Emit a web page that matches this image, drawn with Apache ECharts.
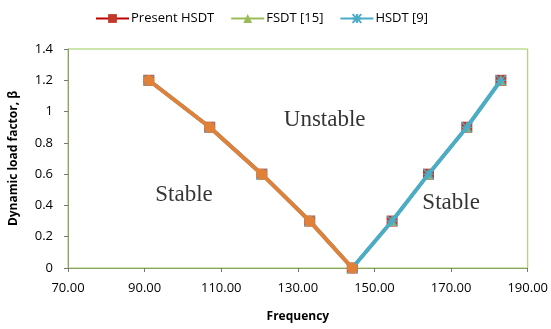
<!DOCTYPE html>
<html><head><meta charset="utf-8">
<script src="https://cdn.jsdelivr.net/npm/echarts@6/dist/echarts.min.js"></script>
<style>html,body{margin:0;padding:0;background:#fff}#c{width:551px;height:329px}</style>
</head><body><div id="c"></div>
<script>
const freqAll = [91.1, 107.0, 120.6, 133.1, 144.2, 154.6, 164.1, 174.1, 183.0];
const betaAll = [1.2, 0.9, 0.6, 0.3, 0.0, 0.3, 0.6, 0.9, 1.2];
const freqLeft = [91.1, 107.0, 120.6, 133.1, 144.2];
const betaLeft = [1.2, 0.9, 0.6, 0.3, 0.0];
const seriesNames = ['Present HSDT', 'FSDT [15]', 'HSDT [9]'];
const regionLabels = ['Unstable', 'Stable', 'Stable'];
const regionPos = [[137.0, 0.946], [100.3, 0.467], [170.0, 0.418]];

const pairs = (xs, ys) => xs.map((x, i) => [x, ys[i]]);
const starPath = 'path://M0,0L10,10M10,0L0,10M5,0L5,10M0,5L10,5';

const chart = echarts.init(document.getElementById('c'));
chart.setOption({
  animation: false,
  grid: {left: 66, right: 23, top: 49, bottom: 61, show: true, borderColor: '#9ACD5A', borderWidth: 1},
  legend: {
    top: 7, left: 90, itemWidth: 33, itemHeight: 11, itemGap: 16,
    textStyle: {fontFamily: 'Open Sans', fontSize: 13, color: '#000', padding: [0, 0, 0, -3]},
    data: seriesNames
  },
  xAxis: {
    type: 'value', min: 70, max: 190, interval: 20,
    name: 'Frequency', nameLocation: 'middle', nameGap: 43,
    nameTextStyle: {fontFamily: 'Open Sans', fontWeight: 'bold', fontSize: 12, color: '#000'},
    axisLine: {show: true, lineStyle: {color: '#8DA06A'}},
    axisTick: {show: true, length: 4, lineStyle: {color: '#777'}},
    axisLabel: {formatter: v => v.toFixed(2), fontFamily: 'Open Sans', fontSize: 13, color: '#000', margin: 14},
    splitLine: {show: false}
  },
  yAxis: {
    type: 'value', min: 0, max: 1.4, interval: 0.2,
    name: 'Dynamic load factor, β', nameLocation: 'middle', nameGap: 48,
    nameTextStyle: {fontFamily: 'Open Sans', fontWeight: 'bold', fontSize: 12, color: '#000'},
    axisLine: {show: true, lineStyle: {color: '#8DA06A'}},
    axisTick: {show: true, length: 4, lineStyle: {color: '#777'}},
    axisLabel: {formatter: v => (Math.round(v * 10) / 10).toString(), fontFamily: 'Open Sans', fontSize: 13, color: '#000', margin: 15},
    splitLine: {show: false}
  },
  series: [
    {name: seriesNames[0], type: 'line', data: pairs(freqAll, betaAll),
     symbol: 'rect', symbolSize: 11, lineStyle: {width: 3, color: '#C00000'},
     itemStyle: {color: '#C0392B'}, z: 2},
    {name: seriesNames[1], type: 'line', data: pairs(freqAll, betaAll),
     symbol: 'triangle', symbolSize: 10, lineStyle: {width: 3, color: '#9BBB59'},
     itemStyle: {color: '#9BBB59'}, z: 3},
    {name: seriesNames[2], type: 'line', data: pairs(freqAll, betaAll),
     symbol: starPath, symbolSize: 10, lineStyle: {width: 4, color: '#4BACC6'},
     itemStyle: {color: '#4BACC6', borderColor: '#4BACC6', borderWidth: 1.5}, z: 4},
    {name: 'orange', type: 'line', data: pairs(freqLeft, betaLeft),
     symbol: 'circle', symbolSize: 11, lineStyle: {width: 4, color: '#E0813A'},
     itemStyle: {color: '#E0813A'}, z: 5},
    {name: 'labels', type: 'scatter', data: regionPos.map((p, i) => ({value: p, label: {formatter: regionLabels[i]}})),
     symbolSize: 0, silent: true, z: 6,
     label: {show: true, position: 'inside', fontFamily: 'Liberation Serif', fontSize: 23, color: '#000'}}
  ]
});
</script></body></html>
